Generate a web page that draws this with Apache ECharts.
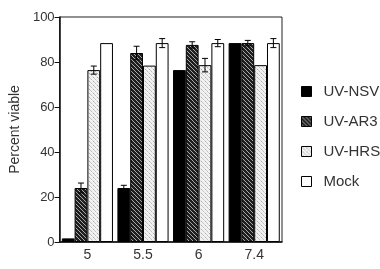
<!DOCTYPE html>
<html>
<head>
<meta charset="utf-8">
<script src="https://cdn.jsdelivr.net/npm/echarts@6/dist/echarts.min.js"></script>
<style>
  html, body { margin: 0; padding: 0; background: #fff; }
  #chart { width: 380px; height: 269px; }
</style>
</head>
<body>
<div id="chart"></div>
<script>
// pH values on the x axis
const categories = ['5', '5.5', '6', '7.4']
const seriesNames = ['UV-NSV', 'UV-AR3', 'UV-HRS', 'Mock']

// percent viable per series
const nsv  = [1.6, 24, 76.4, 88.4]
const ar3  = [24, 84, 87.6, 88.4]
const hrs  = [76.4, 78.4, 78.6, 78.6]
const mock = [88.4, 88.4, 88.4, 88.4]

// error (+/-) per series
const nsvErr  = [0, 1.2, 0, 0]
const ar3Err  = [2.2, 3, 1.4, 1.2]
const hrsErr  = [1.8, 0, 3, 0]
const mockErr = [0, 2, 1.6, 2]

const yTicks = [0, 20, 40, 60, 80, 100]

// hatch patterns
function hatch(bg, fg, lw, size, dash) {
  const c = document.createElement('canvas')
  c.width = c.height = size
  const ctx = c.getContext('2d')
  ctx.fillStyle = bg
  ctx.fillRect(0, 0, size, size)
  ctx.strokeStyle = fg
  ctx.lineWidth = lw
  if (dash) ctx.setLineDash(dash)
  ctx.beginPath()
  ctx.moveTo(-1, -1); ctx.lineTo(size + 1, size + 1)
  ctx.moveTo(-1, size - 1); ctx.lineTo(1, size + 1)
  ctx.moveTo(size - 1, -1); ctx.lineTo(size + 1, 1)
  ctx.stroke()
  return c
}
const ar3Fill = { image: hatch('#1e1e1e', '#a8a8a8', 1, 4), repeat: 'repeat' }
const hrsFill = { image: hatch('#f2f2f2', '#9a9a9a', 1, 4, [1.5, 1]), repeat: 'repeat' }

const values = [nsv, ar3, hrs, mock]
const errs = [nsvErr, ar3Err, hrsErr, mockErr]
const fills = ['#000', ar3Fill, hrsFill, '#fff']
const catGap = 0.08

const errData = []
values.forEach((arr, s) => {
  arr.forEach((v, i) => {
    if (errs[s][i] > 0) errData.push([i, s, v, errs[s][i]])
  })
})

const font = 'Liberation Sans, Arial, sans-serif'
const textColor = '#333'

const chart = echarts.init(document.getElementById('chart'), null, { renderer: 'canvas' })

const barSeries = seriesNames.map((name, s) => ({
  name: name,
  type: 'bar',
  data: values[s],
  barGap: '0%',
  barCategoryGap: (catGap * 100) + '%',
  itemStyle: { color: fills[s], borderColor: '#000', borderWidth: 1 },
  emphasis: { disabled: true }
}))

chart.setOption({
  animation: false,
  backgroundColor: '#fff',
  grid: { left: 57, right: 98, top: 17, bottom: 27, show: true, borderColor: '#222', borderWidth: 1 },
  legend: {
    orient: 'vertical',
    left: 296,
    top: 79,
    icon: 'rect',
    itemWidth: 10,
    itemHeight: 10,
    itemGap: 15,
    data: seriesNames,
    textStyle: { fontFamily: font, fontSize: 15, color: textColor, padding: [0, 0, 0, 7] },
    itemStyle: { borderColor: '#000', borderWidth: 1 }
  },
  xAxis: {
    type: 'category',
    data: categories,
    axisLine: { lineStyle: { color: '#111', width: 1.5 } },
    axisTick: { alignWithLabel: true, length: 5, lineStyle: { color: '#111' } },
    axisLabel: { fontFamily: font, fontSize: 14, color: textColor, margin: 6 }
  },
  yAxis: {
    type: 'value',
    min: 0,
    max: 100,
    interval: 20,
    name: 'Percent viable',
    nameLocation: 'middle',
    nameGap: 32,
    nameTextStyle: { fontFamily: font, fontSize: 14, color: textColor },
    axisLine: { show: true, lineStyle: { color: '#111', width: 1.5 } },
    axisTick: { show: true, length: 5, lineStyle: { color: '#111' } },
    axisLabel: { fontFamily: font, fontSize: 13, color: textColor, margin: 5,
      formatter: v => yTicks.includes(v) ? String(v) : '' },
    splitLine: { show: false }
  },
  series: barSeries.concat([{
    type: 'custom',
    data: errData,
    encode: { x: 0, y: 2 },
    z: 10,
    renderItem: function (params, api) {
      const cat = api.value(0), s = api.value(1), v = api.value(2), e = api.value(3)
      const bandW = api.size([1, 0])[0]
      const barW = bandW * (1 - catGap) / 4
      const cx = api.coord([cat, v])[0] + (s - 1.5) * barW
      const top = api.coord([cat, v + e])[1]
      const bot = api.coord([cat, v - e])[1]
      const cap = 3
      const st = { stroke: '#000', lineWidth: 1 }
      return {
        type: 'group',
        children: [
          { type: 'line', shape: { x1: cx, y1: top, x2: cx, y2: bot }, style: st },
          { type: 'line', shape: { x1: cx - cap, y1: top, x2: cx + cap, y2: top }, style: st },
          { type: 'line', shape: { x1: cx - cap, y1: bot, x2: cx + cap, y2: bot }, style: st }
        ]
      }
    }
  }])
})
</script>
</body>
</html>
